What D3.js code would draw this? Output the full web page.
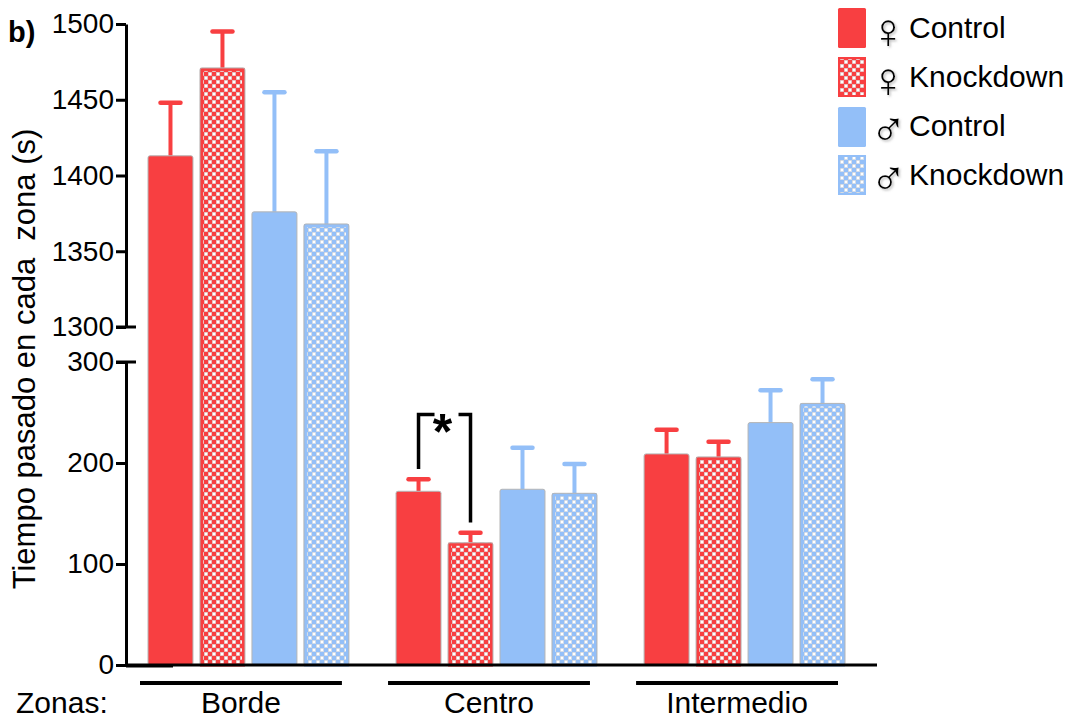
<!DOCTYPE html>
<html><head><meta charset="utf-8">
<script src="https://cdn.jsdelivr.net/npm/d3@7"></script>
<style>
body{margin:0;background:#fff;}
text{font-family:"Liberation Sans",Arial,sans-serif;fill:#000;}
</style></head>
<body>
<svg id="c" width="1086" height="719"></svg>
<script>
const zones = ["Borde","Centro","Intermedio"];
const seriesNames = ["♀ Control","♀ Knockdown","♂ Control","♂ Knockdown"];
const femaleControl = [1413, 172, 209];
const femaleKnockdown = [1471, 121, 206];
const maleControl = [1376, 174, 240];
const maleKnockdown = [1368, 170, 259];
const femaleControlErr = [35, 12, 24];
const femaleKnockdownErr = [24, 10, 15];
const maleControlErr = [79, 41, 32];
const maleKnockdownErr = [48, 29, 24];
const upperTicks = [1300,1350,1400,1450,1500];
const lowerTicks = [0,100,200,300];

const RED = "#f83f41", BLUE = "#93bff8";
const seriesDefs = [
  {name:seriesNames[0], vals:femaleControl, err:femaleControlErr, color:RED, pat:false},
  {name:seriesNames[1], vals:femaleKnockdown, err:femaleKnockdownErr, color:RED, pat:true},
  {name:seriesNames[2], vals:maleControl, err:maleControlErr, color:BLUE, pat:false},
  {name:seriesNames[3], vals:maleKnockdown, err:maleKnockdownErr, color:BLUE, pat:true}
];

const svg = d3.select("#c");
const defs = svg.append("defs");
function makePattern(id, color){
  const p = defs.append("pattern").attr("id",id).attr("patternUnits","userSpaceOnUse")
    .attr("width",8).attr("height",8);
  p.append("rect").attr("width",8).attr("height",8).attr("fill",color);
  [[0.3,0.3],[4.3,4.3]].forEach(([x,y])=>{
    p.append("rect").attr("x",x).attr("y",y).attr("width",3.4).attr("height",3.4)
      .attr("fill","#fff").attr("stroke","#c8c8c8").attr("stroke-width",0.4);
  });
}
makePattern("patRed", RED);
makePattern("patBlue", BLUE);
const sh = defs.append("filter").attr("id","shadow").attr("x","-20%").attr("y","-20%").attr("width","150%").attr("height","150%");
sh.append("feDropShadow").attr("dx",1.5).attr("dy",1.5).attr("stdDeviation",1).attr("flood-color","#999").attr("flood-opacity",0.7);

const yTop = d3.scaleLinear().domain([1300,1500]).range([327,24]);
const yBot = d3.scaleLinear().domain([0,300]).range([665,362]);
const yv = v => v > 300 ? yTop(v) : yBot(v);

const x0 = d3.scaleBand().domain(zones).range([148,845]).paddingInner(0.19).paddingOuter(0);
const x1 = d3.scaleBand().domain(seriesNames).range([0,x0.bandwidth()]).paddingInner(0.135);

const axisX = 126;
function styleAxis(g){
  g.selectAll("path.domain").attr("stroke","#000").attr("stroke-width",3);
  g.selectAll(".tick line").attr("stroke","#000").attr("stroke-width",3);
  g.selectAll(".tick text").attr("font-size",28).attr("font-family","Liberation Sans, Arial, sans-serif").attr("fill","#000");
}
const fmt = d3.format("d");
const gTop = svg.append("g").attr("transform",`translate(${axisX},0)`)
  .call(d3.axisLeft(yTop).tickValues(upperTicks).tickFormat(fmt).tickSize(10).tickSizeOuter(0).tickPadding(2));
styleAxis(gTop);
const gBot = svg.append("g").attr("transform",`translate(${axisX},0)`)
  .call(d3.axisLeft(yBot).tickValues(lowerTicks).tickFormat(fmt).tickSize(10).tickSizeOuter(0).tickPadding(2));
styleAxis(gBot);
[yTop(1300), yBot(300)].forEach(y=>{
  svg.append("line").attr("x1",axisX-10).attr("x2",axisX+10).attr("y1",y).attr("y2",y)
    .attr("stroke","#000").attr("stroke-width",3);
});

// bars
const groups = svg.append("g");
zones.forEach((z,zi)=>{
  seriesDefs.forEach(s=>{
    const bx = x0(z)+x1(s.name), bw = x1.bandwidth();
    const v = s.vals[zi], top = yv(v), base = yBot(0);
    const cx = bx + bw/2;
    const ey = yv(v + s.err[zi]);
    groups.append("line").attr("x1",cx).attr("x2",cx).attr("y1",top).attr("y2",ey)
      .attr("stroke",s.color).attr("stroke-width",4);
    groups.append("line").attr("x1",cx-10).attr("x2",cx+10).attr("y1",ey).attr("y2",ey)
      .attr("stroke",s.color).attr("stroke-width",4.5).attr("stroke-linecap","round");
    if(s.pat){
      groups.append("rect").attr("x",bx).attr("y",top).attr("width",bw).attr("height",base-top)
        .attr("fill", s.color===RED ? "url(#patRed)" : "url(#patBlue)").attr("rx",2);
      groups.append("rect").attr("x",bx+1.5).attr("y",top+1.5).attr("width",bw-3).attr("height",base-top-1.5)
        .attr("fill","none").attr("stroke",s.color).attr("stroke-width",3);
      groups.append("rect").attr("x",bx).attr("y",top).attr("width",bw).attr("height",base-top)
        .attr("fill","none").attr("stroke","#b5b5b5").attr("stroke-width",1).attr("rx",2);
    } else {
      groups.append("rect").attr("x",bx).attr("y",top).attr("width",bw).attr("height",base-top)
        .attr("fill",s.color).attr("stroke","#b5b5b5").attr("stroke-width",1).attr("rx",2);
    }
  });
});

// x axis baseline
svg.append("line").attr("x1",axisX-1).attr("x2",877).attr("y1",yBot(0)).attr("y2",yBot(0))
  .attr("stroke","#000").attr("stroke-width",3);
svg.append("line").attr("x1",axisX).attr("x2",173).attr("y1",yBot(0)+1).attr("y2",yBot(0)+1)
  .attr("stroke","#000").attr("stroke-width",3);

// zone underlines + labels
zones.forEach(z=>{
  const a = x0(z)-8, b = x0(z)+x0.bandwidth()-7;
  svg.append("line").attr("x1",a).attr("x2",b).attr("y1",683).attr("y2",683)
    .attr("stroke","#000").attr("stroke-width",4);
  svg.append("text").attr("x",(a+b)/2).attr("y",713).attr("text-anchor","middle")
    .attr("font-size",30).text(z);
});
svg.append("text").attr("x",16).attr("y",713).attr("font-size",30).text("Zonas:");

// y label
svg.append("text").attr("transform","translate(35,359) rotate(-90)").attr("text-anchor","middle")
  .attr("font-size",31).style("white-space","pre")
  .text("Tiempo pasado en cada  zona (s)");

// panel label
svg.append("text").attr("x",8).attr("y",42).attr("font-size",29).attr("font-weight","bold").text("b)");

// significance bracket
{
  const zi = 1, z = zones[zi];
  const xa = x0(z)+x1(seriesNames[0])+x1.bandwidth()/2;
  const xb = x0(z)+x1(seriesNames[1])+x1.bandwidth()/2;
  const yTopB = yBot(248);
  const ya = yBot(femaleControl[zi]+femaleControlErr[zi]+10);
  const yb = yBot(femaleKnockdown[zi]+femaleKnockdownErr[zi]+10);
  const mid = (xa+xb)/2;
  svg.append("path").attr("d",`M${xa},${ya}V${yTopB}H${mid-10}`).attr("fill","none")
    .attr("stroke","#000").attr("stroke-width",3.5);
  svg.append("path").attr("d",`M${mid+14},${yTopB}H${xb}V${yb}`).attr("fill","none")
    .attr("stroke","#000").attr("stroke-width",3.5);
  svg.append("text").attr("x",mid-2).attr("y",yTopB+34).attr("text-anchor","middle")
    .attr("font-size",50).attr("font-weight","bold").text("*");
}

// legend
const legY = [8, 57, 107, 155];
const legBase = [38, 87, 136, 185];
seriesDefs.forEach((s,i)=>{
  const g = svg.append("g");
  g.append("rect").attr("x",838).attr("y",legY[i]).attr("width",28).attr("height",40)
    .attr("fill", s.pat ? (s.color===RED?"url(#patRed)":"url(#patBlue)") : s.color).attr("rx",1.5);
  if(s.pat){
    g.append("rect").attr("x",839).attr("y",legY[i]+1).attr("width",26).attr("height",38)
      .attr("fill","none").attr("stroke",s.color).attr("stroke-width",2);
  }
  const parts = s.name.split(" ");
  g.append("text").attr("x",870).attr("y",legBase[i]+10).attr("font-size",49)
    .attr("font-family","DejaVu Sans, sans-serif").attr("font-weight",200)
    .attr("filter","url(#shadow)").text(parts[0]);
  g.append("text").attr("x",909).attr("y",legBase[i]).attr("font-size",30).text(parts.slice(1).join(" "));
});
</script>
</body></html>
